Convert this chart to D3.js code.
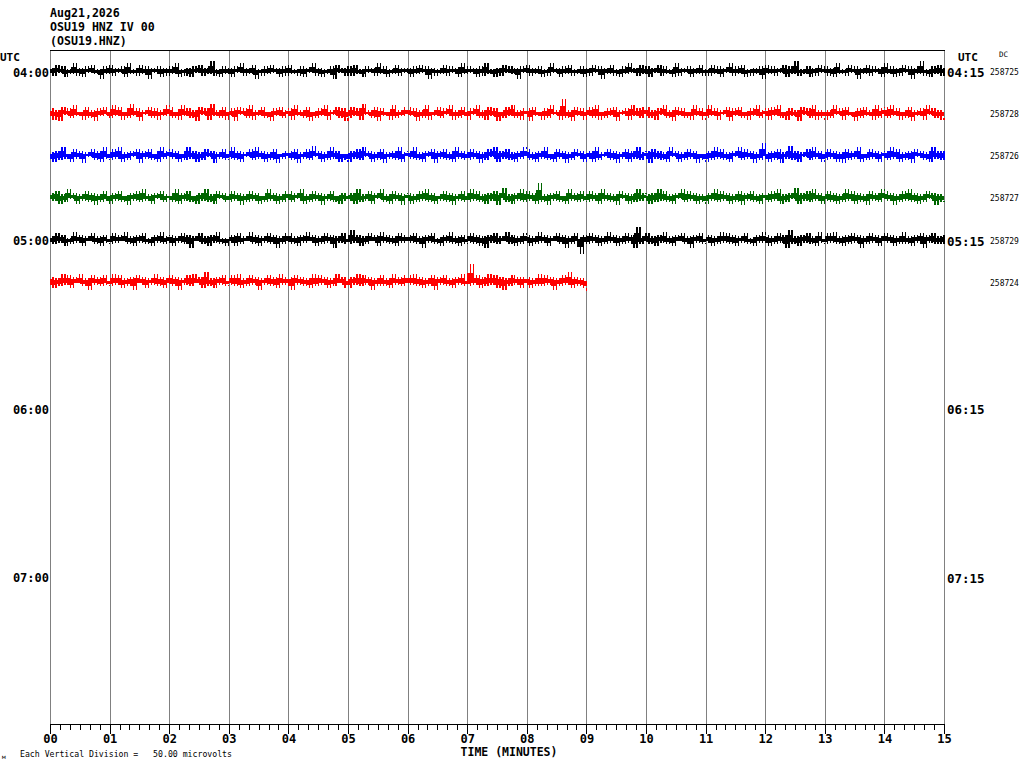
<!DOCTYPE html>
<html>
<head>
<meta charset="utf-8">
<script src="https://cdn.jsdelivr.net/npm/d3@7"></script>
<style>
  html, body { margin: 0; padding: 0; background: #ffffff; }
  svg { display: block; }
  text { font-family: "DejaVu Sans Mono", "Liberation Mono", monospace; fill: #000; }
</style>
</head>
<body>
<svg id="chart" width="1024" height="768"></svg>
<script>
// ---------------- DATA ----------------
const headerLines = ["Aug21,2026", "OSU19 HNZ IV 00", "(OSU19.HNZ)"];
const minuteLabels = ["00","01","02","03","04","05","06","07","08","09","10","11","12","13","14","15"];
const leftHourLabels = ["04:00", "05:00", "06:00", "07:00"];
const rightHourLabels = ["04:15", "05:15", "06:15", "07:15"];
const hourLabelRows = [0, 4, 8, 12];
const rowIds = ["258725", "258728", "258726", "258727", "258729", "258724"];
const traceColors = ["#000000", "#ff0000", "#0000ff", "#006600"];
const rowMinutes = [15, 15, 15, 15, 15, 9];
const scaleNote = "Each Vertical Division =   50.00 microvolts";

// trace samples (one every 3 s), amplitude units
const trace0 = [
 2,-3,4,-1,3,-4,1,-2,5,-3,2,-4,3,-1,4,-2,1,-5,3,-2,
 4,-3,2,-1,3,-4,5,-2,1,-3,4,-2,3,-5,2,-1,3,-4,2,-3,
 3,-2,5,-4,1,-3,2,-4,3,-1,4,-3,2,-2,6,-3,1,-4,3,-2,
 2,-4,3,-1,5,-3,2,-2,4,-5,1,-3,3,-2,4,-1,2,-4,3,-3,
 4,-2,1,-3,3,-4,2,-1,5,-3,2,-4,1,-2,3,-5,4,-1,2,-3,
 3,-3,4,-2,1,-4,3,-1,2,-3,5,-2,3,-4,1,-2,4,-3,2,-1,
 2,-4,3,-2,4,-1,3,-5,2,-3,1,-2,4,-3,3,-1,2,-4,5,-2,
 3,-1,2,-4,3,-3,5,-2,1,-4,2,-3,4,-1,3,-2,2,-5,3,-1,
 4,-3,2,-2,3,-4,1,-3,5,-1,2,-4,3,-2,4,-3,1,-2,3,-4,
 2,-3,4,-1,3,-5,2,-2,4,-3,1,-4,3,-2,5,-1,2,-3,4,-2,
 3,-4,2,-1,4,-3,3,-2,1,-4,5,-3,2,-1,3,-4,2,-2,4,-3,
 1,-3,4,-2,3,-4,2,-1,5,-3,3,-2,4,-4,1,-3,2,-2,3,-5,
 4,-2,3,-3,2,-1,4,-4,3,-2,6,-3,1,-2,3,-4,2,-3,4,-1,
 3,-3,2,-4,5,-2,1,-3,4,-1,3,-5,2,-2,4,-3,3,-1,2,-4,
 5,-2,3,-4,2,-3,4,-1,3,-5,2,-2,6,-3,1,-4,3,-2,4,-3,
 2
];
const trace1 = [
 3,-4,2,-5,4,-1,3,-3,5,-2,1,-4,4,-3,2,-5,3,-2,4,-1,
 -3,5,-2,4,-4,1,-3,6,-2,3,-5,2,-1,4,-3,3,-4,2,-2,5,
 4,-3,1,-4,5,-2,3,-3,2,-5,4,-1,3,-4,6,-2,2,-3,4,-4,
 -2,3,-5,4,-1,3,-3,5,-4,2,-2,4,-3,1,-5,3,-2,4,-3,2,
 3,-4,5,-2,2,-3,4,-5,1,-3,3,-2,5,-4,2,-1,4,-3,3,-5,
 -3,4,-2,3,-4,6,-1,2,-3,4,-5,3,-2,1,-4,5,-3,2,-2,4,
 4,-2,3,-5,2,-3,5,-4,1,-2,4,-3,3,-1,5,-4,2,-3,4,-2,
 -4,3,-1,5,-3,2,-4,4,-2,3,-5,1,-3,4,-2,5,-3,2,-4,3,
 3,-5,4,-2,1,-4,3,-3,5,-1,2,-4,9,-3,2,-5,4,-2,3,-4,
 -2,4,-3,5,-4,1,-3,3,-2,4,-5,2,-1,3,-4,5,-2,3,-3,4,
 4,-3,2,-4,3,-1,5,-3,2,-5,4,-2,3,-3,1,-4,5,-2,3,-4,
 -3,5,-2,3,-4,2,-1,4,-5,3,-2,4,-3,1,-4,3,-2,5,-3,2,
 3,-4,4,-2,5,-3,1,-4,3,-2,2,-5,4,-1,3,-3,5,-4,2,-3,
 -4,2,-3,5,-1,3,-4,4,-2,1,-5,3,-3,4,-2,2,-4,5,-3,3,
 4,-3,5,-2,3,-4,1,-3,4,-5,2,-2,3,-4,5,-1,3,-3,2,-4,
 -3
];
const trace2 = [
 2,-4,3,-3,5,-2,1,-4,4,-2,3,-5,2,-1,4,-3,3,-4,5,-2,
 -3,4,-2,5,-4,2,-3,3,-1,4,-5,3,-2,4,-3,1,-4,5,-2,3,
 4,-2,3,-4,1,-3,5,-2,3,-4,2,-3,4,-1,3,-5,2,-2,4,-3,
 -2,5,-3,3,-4,2,-1,4,-3,5,-2,3,-4,2,-3,4,-5,1,-2,3,
 3,-3,4,-5,2,-2,4,-3,6,-1,3,-4,2,-3,5,-2,3,-4,1,-3,
 -4,3,-2,4,-3,5,-1,3,-4,2,-3,4,-5,2,-2,3,-3,5,-4,2,
 3,-2,5,-3,2,-4,3,-1,4,-5,3,-2,4,-3,2,-4,5,-2,3,-3,
 -3,4,-2,3,-5,2,-3,4,-1,5,-4,3,-2,4,-3,2,-4,3,-2,5,
 4,-3,2,-4,3,-2,5,-3,1,-4,4,-2,3,-5,2,-3,4,-1,3,-4,
 -2,3,-4,5,-3,2,-1,4,-3,3,-5,2,-2,4,-4,3,-2,5,-3,2,
 3,-5,4,-2,3,-3,2,-4,5,-1,3,-4,2,-3,4,-2,3,-5,1,-3,
 -4,3,-3,5,-2,4,-3,2,-4,3,-1,5,-3,4,-2,3,-5,2,-3,8,
 2,-4,3,-3,4,-5,2,-2,6,-3,3,-4,2,-1,4,-3,5,-2,3,-4,
 -3,4,-2,3,-4,2,-5,4,-3,3,-2,5,-4,1,-3,4,-2,3,-4,2,
 3,-3,5,-2,4,-4,2,-3,3,-5,4,-1,3,-3,2,-4,5,-2,3,-3,
 3
];
const trace3 = [
 3,-2,4,-4,2,-3,5,-1,3,-4,2,-2,4,-3,3,-5,2,-3,4,-2,
 -4,3,-2,4,-3,1,-5,3,-2,4,-3,5,-2,2,-4,3,-1,4,-3,2,
 2,-3,5,-4,3,-2,4,-3,1,-4,3,-2,5,-3,2,-4,4,-1,3,-3,
 -3,4,-2,3,-5,2,-3,4,-2,3,-4,1,-3,5,-2,3,-4,2,-3,4,
 4,-3,3,-1,5,-4,2,-3,4,-2,3,-5,2,-2,4,-3,1,-4,3,-2,
 -2,3,-4,5,-3,2,-2,4,-4,3,-1,5,-3,2,-4,4,-2,3,-5,2,
 3,-4,2,-3,4,-2,5,-3,3,-4,1,-2,4,-3,3,-5,2,-2,4,-3,
 -3,5,-2,4,-3,2,-4,3,-2,4,-5,3,6,-3,2,-4,3,-2,5,-3,
 4,-2,3,-4,9,-3,2,-5,3,-2,4,-3,1,-4,5,-2,3,-3,4,-2,
 -3,4,-2,3,-4,5,-2,3,-3,2,-5,4,-1,3,-4,2,-3,5,-2,3,
 2,-4,3,-3,5,-2,4,-3,2,-4,3,-1,5,-3,4,-2,3,-4,2,-3,
 -4,3,-2,5,-3,4,-2,3,-4,2,-3,4,-5,3,-2,4,-3,2,-4,3,
 3,-3,4,-2,5,-4,2,-3,3,-1,6,-4,3,-2,4,-3,5,-2,3,-4,
 -2,4,-3,3,-4,2,-3,5,-2,4,-4,3,-3,2,-5,4,-2,3,-3,5,
 4,-2,3,-5,2,-3,4,-2,5,-3,3,-4,2,-3,4,-1,3,-5,2,-3,
 -2
];
const trace4 = [
 2,-3,4,-2,3,-4,1,-3,5,-2,3,-4,2,-1,4,-3,2,-4,3,-2,
 -3,4,-2,3,-1,5,-3,2,-4,3,-2,4,-3,1,-4,3,-2,5,-3,2,
 3,-4,2,-2,4,-3,3,-5,2,-1,4,-3,2,-4,3,-2,5,-3,1,-4,
 -2,3,-4,4,-3,2,-1,5,-3,3,-4,2,-2,4,-3,3,-5,2,-3,4,
 4,-3,2,-4,3,-2,5,-1,3,-4,2,-3,4,-2,3,-5,2,-2,4,-3,
 -3,6,-2,3,-4,2,-3,4,-1,3,-4,5,-2,3,-3,2,-4,4,-2,3,
 3,-2,4,-3,2,-5,3,-2,4,-3,1,-4,3,-2,5,-3,2,-4,3,-3,
 -2,4,-3,3,-4,2,-5,3,-2,4,-3,2,-1,5,-3,3,-4,2,-3,4,
 3,-4,2,-3,5,-2,3,-4,2,-1,4,-3,3,-5,2,-3,4,-2,-9,3,
 -3,4,-2,3,-4,2,-3,5,-2,3,-4,2,-3,4,-2,3,-5,8,-3,2,
 4,-3,2,-4,3,-2,5,-3,2,-4,3,-1,4,-3,2,-5,3,-2,4,-3,
 -2,3,-4,2,-3,5,-2,4,-3,3,-4,2,-2,4,-3,1,-4,3,-2,5,
 3,-4,2,-3,4,-2,3,-5,6,-3,2,-4,3,-2,4,-3,2,-4,5,-2,
 -3,4,-2,5,-3,2,-4,3,-3,4,-2,3,-5,2,-3,4,-2,3,-4,2,
 4,-2,3,-4,2,-3,5,-3,2,-4,3,-2,4,-5,3,-2,4,-3,2,-3,
 3
];
const trace5 = [
 3,-4,2,-3,5,-2,4,-4,3,-1,5,-3,2,-5,4,-2,3,-3,4,-2,
 -3,5,-2,4,-4,2,-3,3,-5,4,-1,3,-4,2,-2,5,-3,3,-4,2,
 4,-3,3,-5,2,-2,4,-3,5,-1,3,-4,6,-3,2,-4,3,-2,4,-3,
 -2,4,-3,5,-4,2,-3,4,-2,3,-5,2,-2,4,-3,3,-4,5,-2,3,
 3,-5,4,-2,3,-3,2,-4,5,-3,4,-2,3,-4,2,-3,5,-1,3,-4,
 -4,3,-2,5,-3,4,-2,3,-5,2,-3,4,-3,2,-4,5,-2,3,-3,4,
 4,-2,5,-3,3,-4,2,-3,4,-5,3,-2,4,-3,2,-4,3,-2,5,-3,
 -3,11,-2,4,-4,3,-3,5,-2,4,-4,3,-5,2,-3,4,-2,3,-4,3,
 3,-4,2,-3,5,-3,4,-2,3,-5,2,-3,4,-2,6,-4,3,-3,2,-4,
 -6
];
const traces = [trace0, trace1, trace2, trace3, trace4, trace5];

// ---------------- LAYOUT ----------------
const svg = d3.select("#chart");
const plot = { left: 50, right: 944, top: 50, bottom: 724 };
const nRows = 16;

const x = d3.scaleLinear().domain([0, 15]).range([plot.left, plot.right]);
const rowY = d3.scaleLinear().domain([-0.5, nRows - 0.5]).range([plot.top, plot.bottom]);
const amp = d3.scaleLinear().domain([-10, 10]).range([-16, 16]);
const coreAmp = d3.scaleLinear().domain([-10, 10]).range([-8, 8]);

// header
svg.append("g").selectAll("text").data(headerLines).join("text")
  .attr("x", 50).attr("y", (d, i) => 17 + i * 14)
  .attr("font-size", 11.6).attr("font-weight", "bold")
  .text(d => d);

// grid lines (every minute)
svg.append("g").selectAll("line").data(d3.range(0, 16)).join("line")
  .attr("x1", d => Math.round(x(d)) + 0.5).attr("x2", d => Math.round(x(d)) + 0.5)
  .attr("y1", plot.top).attr("y2", plot.bottom)
  .attr("stroke", "#808080").attr("stroke-width", 1);

// top border
svg.append("line")
  .attr("x1", plot.left).attr("x2", plot.right + 1)
  .attr("y1", plot.top + 0.5).attr("y2", plot.top + 0.5)
  .attr("stroke", "#000").attr("stroke-width", 1);

// traces: a solid core band plus a vertical stroke per sample (helicorder style)
traces.forEach((tr, r) => {
  const n = tr.length;
  const tx = i => x(i / (n - 1) * rowMinutes[r]);
  const y0 = rowY(r);
  const color = traceColors[r % traceColors.length];
  const core = d3.path();
  const strokes = d3.path();
  for (let i = 0; i < n - 1; i++) {
    const a = y0 - coreAmp(tr[i]), b = y0 - coreAmp(tr[i + 1]);
    const top = Math.min(a, b, y0 - 1), bot = Math.max(a, b, y0 + 1);
    const xa = tx(i), xb = tx(i + 1);
    core.rect(xa, top, xb - xa + 0.3, bot - top);
  }
  for (let i = 1; i < n; i++) {
    const xi = tx(i);
    strokes.moveTo(xi, y0 - amp(tr[i - 1]));
    strokes.lineTo(xi, y0 - amp(tr[i]));
  }
  svg.append("path").attr("d", core.toString())
    .attr("fill", color).attr("stroke", "none").attr("shape-rendering", "crispEdges");
  svg.append("path").attr("d", strokes.toString())
    .attr("fill", "none").attr("stroke", color).attr("stroke-width", 1.2)
    .attr("shape-rendering", "crispEdges");
});

// UTC labels
svg.append("text").attr("x", 0).attr("y", 61).attr("font-size", 11).attr("font-weight", "bold").text("UTC");
svg.append("text").attr("x", 958).attr("y", 61).attr("font-size", 11).attr("font-weight", "bold").text("UTC");
svg.append("text").attr("x", 999).attr("y", 57).attr("font-size", 7.5).text("DC");

// hour labels
svg.append("g").selectAll("text").data(leftHourLabels).join("text")
  .attr("x", 49).attr("y", (d, i) => rowY(hourLabelRows[i]) + 5.5)
  .attr("text-anchor", "end").attr("font-size", 12).attr("font-weight", "bold")
  .text(d => d);
svg.append("g").selectAll("text").data(rightHourLabels).join("text")
  .attr("x", 947).attr("y", (d, i) => rowY(hourLabelRows[i]) + 6)
  .attr("font-size", 12.5).attr("font-weight", "bold")
  .text(d => d);

// row ids
svg.append("g").selectAll("text").data(rowIds).join("text")
  .attr("x", 990).attr("y", (d, i) => rowY(i) + 4)
  .attr("font-size", 8).text(d => d);

// bottom axis: minor ticks every 10 s
const minorAxis = d3.axisBottom(x)
  .tickValues(d3.range(0, 91).map(k => k / 6))
  .tickSize(6).tickSizeOuter(0).tickFormat("");
const gMinor = svg.append("g").attr("transform", `translate(0,${plot.bottom})`).call(minorAxis);
gMinor.select(".domain").attr("stroke", "#000");
gMinor.selectAll(".tick line").attr("stroke", "#000").attr("shape-rendering", "crispEdges");

const majorAxis = d3.axisBottom(x)
  .tickValues(d3.range(0, 16))
  .tickSize(10).tickSizeOuter(0).tickPadding(2)
  .tickFormat((d, i) => minuteLabels[i]);
const gMajor = svg.append("g").attr("transform", `translate(0,${plot.bottom})`).call(majorAxis);
gMajor.select(".domain").attr("stroke", "#000").attr("shape-rendering", "crispEdges");
gMajor.selectAll(".tick line").attr("stroke", "#000").attr("shape-rendering", "crispEdges");
gMajor.selectAll(".tick text")
  .attr("font-family", "DejaVu Sans Mono, monospace")
  .attr("font-size", 12).attr("font-weight", "bold").attr("fill", "#000")
  .attr("dy", "0.6em");

// axis title
svg.append("text").attr("x", 509).attr("y", 756).attr("text-anchor", "middle")
  .attr("font-size", 11.5).attr("font-weight", "bold").text("TIME (MINUTES)");

// scale note
svg.append("text").attr("x", 20).attr("y", 757).attr("font-size", 8.2)
  .attr("xml:space", "preserve").style("white-space", "pre").text(scaleNote);
svg.append("text").attr("x", 2).attr("y", 759).attr("font-size", 6).style("fill", "#000").text("м");
</script>
</body>
</html>
